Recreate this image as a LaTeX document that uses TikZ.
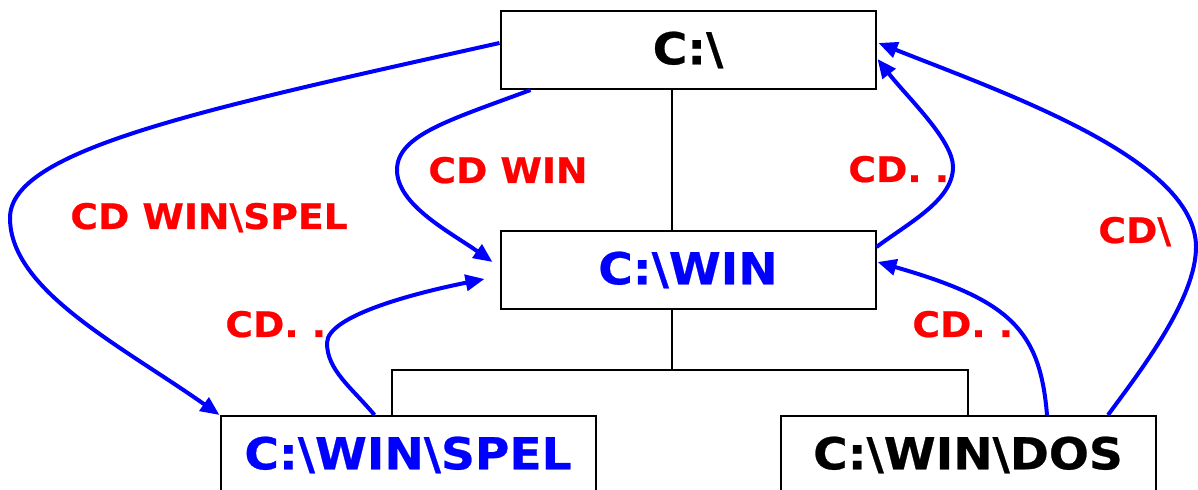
\documentclass[tikz,border=0pt]{standalone}
\usepackage{fontspec}
\setmainfont{DejaVu Sans}
\newfontfamily\dirfont{DejaVu Sans Bold}[FakeStretch=1.07, FakeBold=0.6]
\usetikzlibrary{positioning, arrows.meta, calc}

\begin{document}
\begin{tikzpicture}[x=0.5pt, y=-0.5pt]
	% Define styles
	\tikzset{
		dirbox/.style={rectangle, draw, line width=1pt, minimum width=187.5pt, minimum height=39pt, inner sep=0pt, font=\dirfont\fontsize{22}{26}\selectfont},
		tree/.style={draw, line width=0.7pt},
		cdline/.style={draw, blue, line width=2pt, -{Triangle[length=9.5pt, width=8pt]}},
		cmd/.style={text=red, anchor=base west, inner sep=0pt, font=\dirfont\fontsize{17.6}{20}\selectfont}
	}
	\useasboundingbox (0,0) rectangle (1198,490);
	% Nodes
	\node[dirbox] (root) at (688,50) {C:\textbackslash};
	\node[dirbox, below=70pt of root, text=blue] (win) {C:\textbackslash WIN};
	\node[dirbox, text=blue] (spel) at (408,455) {C:\textbackslash WIN\textbackslash SPEL};
	\node[dirbox] (dos) at (968,455) {C:\textbackslash WIN\textbackslash DOS};
	
	\coordinate (fork) at (672,370);
	\coordinate (forkL) at (392,370);
	\coordinate (forkR) at (968,370);
	
	% Tree
	\draw[tree] (fork |- root.south) -- (fork |- win.north);
	\draw[tree] (fork |- win.south) -- (fork);
	\draw[tree] (forkL |- spel.north) -- (forkL) -- (forkR) -- (dos.north);
	
	% Labels
	\node[cmd] (gospel) at (70,229) {CD WIN\textbackslash SPEL};
	\node[cmd] (gowin) at (428,183) {CD WIN};
	\node[cmd] (upspel) at (225,337) {CD. .};
	\node[cmd] (upwin) at (848,182) {CD. .};
	\node[cmd] (toroot) at (1098,243) {CD\textbackslash};
	\node[cmd] (updos) at (912,337) {CD. .};
	
	% Arrows
	\draw[cdline] ($(root.west)+(0,-7)$) .. controls (200,110) and (10,150) .. (10,218)
		.. controls (10,290) and (120,345) .. (spel.north west);
	\draw[cdline] ($(root.south west)+(31,0)$) .. controls (450,120) and (397,135) .. (397,170)
		.. controls (397,205) and (450,232) .. ($(win.west)+(-7,-8)$);
	\draw[cdline] ($(spel.north west)+(155,0)$) .. controls (351,387) and (327,370) .. (327,343)
		.. controls (327,315) and (420,292) .. ($(win.west)+(-15,9)$);
	
	\draw[cdline] ($(win.east)+(0,-23)$) .. controls (910,222) and (953,200) .. (953,167)
		.. controls (953,140) and (907,97) .. ($(root.east)+(1,9)$);
	\draw[cdline] ($(dos.north)+(140,0)$) .. controls (1138,374) and (1196,300) .. (1196,247)
		.. controls (1196,160) and (1010,95) .. ($(root.east)+(2,-7)$);
	\draw[cdline] ($(dos.north)+(79,0)$) .. controls (1040,330) and (1010,300) .. ($(win.east)+(1,-8)$);
\end{tikzpicture}
\end{document}
